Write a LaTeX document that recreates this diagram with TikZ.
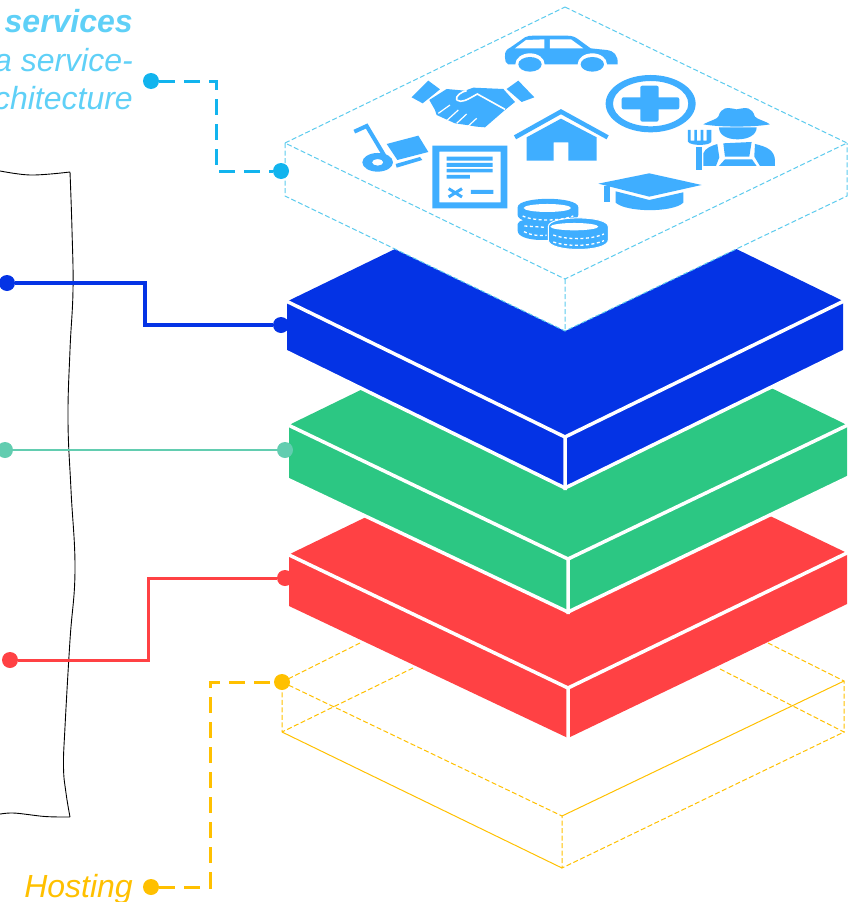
\documentclass[tikz,border=0pt]{standalone}
\usepackage{fontspec}
\setmainfont{Liberation Sans}
\definecolor{cyandot}{HTML}{12B4EE}
\definecolor{cyantext}{HTML}{5FD0F7}
\definecolor{cyanline}{HTML}{5CCBEE}
\definecolor{iconblue}{HTML}{3FAEFF}
\definecolor{bluelayer}{HTML}{0433E5}
\definecolor{greenlayer}{HTML}{2CC783}
\definecolor{greenline}{HTML}{62CDB0}
\definecolor{redlayer}{HTML}{FF4144}
\definecolor{amber}{HTML}{FFC000}
\tikzset{
  dotnode/.style={circle,inner sep=0pt,minimum size=16pt,draw=none},
  captext/.style={anchor=base east,inner sep=0pt,font=\fontsize{32}{32}\selectfont\itshape},
  edgewhite/.style={draw=white,line width=3.5pt,line join=miter},
  wire/.style={line width=3pt},
  longdash/.style={dash pattern=on 16pt off 9pt},
  thinline/.style={line width=1pt},
  thindash/.style={line width=1pt,dash pattern=on 5pt off 2.5pt},
  icon/.style={fill=iconblue,draw=none},
  iconcut/.style={fill=white,draw=none},
  coindash/.style={white,line width=1.3pt,dash pattern=on 3pt off 2.5pt},
}
\begin{document}
\begin{tikzpicture}[x=1pt,y=-1pt,line join=miter]
\useasboundingbox (0,0) rectangle (859,902);
%% paper outline
\draw [black,line width=0.9pt] plot [smooth,tension=0.6] coordinates {(-5,170) (30,175) (70,172)}
  plot [smooth,tension=0.7] coordinates {(70,172) (72,230) (73,290) (70,350) (68,420) (71,490) (75,570) (70,640) (65,727) (63.5,767) (66,793) (70,817)}
  plot [smooth,tension=0.6] coordinates {(70,817) (45,816.5) (13,813) (-5,815)};
%% hosting layer, wire frame
\draw [amber,thindash] (360,643) -- (282,682) -- (282,732);
\draw [amber,thindash] (413,668) -- (282,732);
\draw [amber,thindash] (768,643) -- (844,681) -- (844,732) -- (718,668);
\draw [amber,thindash] (282,682) -- (562,816) -- (562,868) -- (844,732);
\draw [amber,thinline] (282,732) -- (562,868);
\draw [amber,thinline] (562,816) -- (844,681);
%% red layer
\fill [redlayer] (289,606) -- (289,555) -- (292,553) -- (568,419) -- (844,551.5) -- (847,553) -- (847,604) -- (568,738) -- cycle;
\draw [edgewhite] (285,553) -- (568,688) -- (851,551) (568,688) -- (568,739);
%% green layer
\fill [greenlayer] (289,480) -- (289,425.5) -- (293,423) -- (568,289) -- (843,423) -- (847,425.5) -- (847,478) -- (568,612) -- cycle;
\draw [edgewhite] (285,478) -- (568,612) -- (851,476);
\draw [edgewhite] (285,423.5) -- (568,559) -- (851,423.5) (568,559) -- (568,614);
%% blue layer
\node (blue_b) at (281,325) [dotnode,fill=bluelayer] {};
\fill [bluelayer] (287,352) -- (287,301.5) -- (290,300) -- (566,166) -- (841,300) -- (843,301.5) -- (843,352) -- (565,488) -- cycle;
\draw [edgewhite] (284,350.5) -- (565,488) -- (846,350.5);
\draw [edgewhite] (283,299.5) -- (565,437) -- (847,299.5) (565,437) -- (565,490);
%% services layer
\fill [white] (565,7) -- (847,143) -- (847,196) -- (565,331) -- (285,196) -- (285,143) -- cycle;
\draw [cyanline,thindash] (565,7) -- (847,143) -- (565,279) -- (285,143) -- cycle;
\draw [cyanline,thindash] (285,143) -- (285,196) -- (565,331) -- (847,196) -- (847,143) (565,279) -- (565,331);
%% icons
\begin{scope}[shift={(340,20)},x=0.3333pt,y=-0.3333pt]
% car
\fill [icon] (495,112) .. controls (493,95) and (500,88) .. (512,82) -- (555,52) .. controls (562,48) and (570,47) .. (580,47) -- (680,47) .. controls (695,47) and (705,50) .. (715,58) -- (752,85) -- (800,90) .. controls (822,93) and (835,105) .. (833,133) -- (505,133) .. controls (497,130) and (495,122) .. (495,112) -- cycle;
\fill [iconcut] (525,85) -- (558,60) -- (613,58) -- (613,85) -- cycle (630,58) -- (693,58) -- (730,85) -- (630,85) -- cycle;
\fill [iconcut] (570,133) circle [x radius=44,y radius=33] (757,133) circle [x radius=44,y radius=33];
\fill [iconcut] (495,134) rectangle (835,160);
\fill [icon] (570,133) circle [x radius=35,y radius=22] (757,133) circle [x radius=35,y radius=22];
% handshake
\fill [icon] (215,232) -- (265,182) -- (300,208) -- (248,250) -- cycle (500,207) -- (535,182) -- (583,232) -- (545,246) -- cycle;
\fill [icon] (268,240) -- (320,207) -- (375,212) -- (400,203) -- (490,207) -- (525,246) -- (495,270) -- (435,322) -- (410,320) -- (380,315) -- (345,310) -- (290,285) -- (285,270) -- cycle;
\draw [white,line width=1.6pt] (350,240) .. controls (365,250) and (380,240) .. (412,222) -- (495,268);
\draw [white,line width=1.6pt] (350,240) .. controls (345,228) and (365,215) .. (380,212);
\draw [white,line width=1.2pt] (330,255) -- (295,280) (355,270) -- (322,300) (380,282) -- (350,310) (410,295) -- (385,318);
% plus in a ring
\fill [icon,even odd rule] (932,251) circle [x radius=135,y radius=86] (932,251) circle [x radius=113,y radius=68];
\fill [icon,rounded corners=2pt] (901,197) rectangle (956,305);
\fill [icon,rounded corners=2pt] (845,232) rectangle (1018,268);
% farmer
\fill [icon] (1090,313) .. controls (1115,300) and (1130,298) .. (1135,290) .. controls (1145,260) and (1160,262) .. (1190,268) .. controls (1220,262) and (1235,260) .. (1245,290) .. controls (1255,300) and (1270,300) .. (1290,313) .. controls (1240,322) and (1140,322) .. (1090,313) -- cycle;
\fill [icon] (1137,322) -- (1250,322) .. controls (1250,345) and (1225,358) .. (1193,358) .. controls (1160,358) and (1137,345) .. (1137,322) -- cycle;
\fill [icon] (1150,370) -- (1235,366) -- (1228,410) -- (1155,410) -- cycle;
\fill [icon] (1132,372) -- (1138,412) -- (1128,438) -- (1090,438) -- (1090,400) .. controls (1095,385) and (1115,377) .. (1132,372) -- cycle;
\fill [icon] (1245,372) .. controls (1280,380) and (1303,390) .. (1305,420) -- (1305,438) -- (1260,438) -- (1243,410) -- cycle;
\fill [icon] (1155,418) -- (1236,418) -- (1250,438) -- (1137,438) -- cycle;
\fill [icon] (1069,380) -- (1087,380) -- (1087,450) -- (1069,450) -- cycle;
\fill [icon] (1044,330) -- (1052,330) -- (1052,362) -- (1063,362) -- (1063,330) -- (1071,330) -- (1071,362) -- (1082,362) -- (1082,330) -- (1090,330) -- (1090,362) -- (1100,362) -- (1100,330) -- (1114,330) -- (1114,365) .. controls (1110,378) and (1050,378) .. (1044,365) -- cycle;
% lawn mower
\draw [iconblue,line width=4pt] (43,335) -- (80,318) -- (135,410);
\fill [icon,even odd rule] (113,427) circle [x radius=46,y radius=28] (113,427) circle [x radius=17,y radius=10];
\fill [icon] (140,372) -- (235,347) -- (265,396) -- (172,420) -- cycle;
\fill [icon] (167,432) -- (240,411) -- (247,420) -- (170,443) -- cycle;
% document
\fill [icon,even odd rule] (277,377) rectangle (502,565) (298,395) rectangle (482,547);
\fill [icon] (320,410) rectangle (458,422) (320,429) rectangle (458,441) (320,447) rectangle (458,457) (320,465) rectangle (390,476) (393,510) rectangle (460,522);
\draw [iconblue,line width=3pt] (326,506) -- (366,531) (366,506) -- (326,531);
% house
\draw [iconblue,line width=4.5pt] (525,352) -- (663,275) -- (803,352);
\fill [icon] (560,352) -- (663,296) -- (770,352) -- (770,422) -- (685,422) -- (685,367) -- (641,367) -- (641,422) -- (560,422) -- cycle;
% mortar board
\fill [icon] (775,491) -- (928,460) -- (1085,495) -- (928,530) -- cycle;
\fill [icon] (793,497) rectangle (809,546);
\fill [icon] (827,514) -- (928,540) -- (1030,517) -- (1030,548) .. controls (1000,578) and (860,578) .. (827,548) -- cycle;
% coins
\fill [icon] (533,562) .. controls (533,528) and (715,528) .. (715,562) -- (715,585) .. controls (715,620) and (533,620) .. (533,585) -- cycle;
\fill [icon] (533,612) .. controls (533,590) and (660,590) .. (680,612) -- (680,640) .. controls (660,668) and (533,668) .. (533,632) -- cycle;
\fill [icon,draw=white,line width=1pt] (625,620) .. controls (625,585) and (805,585) .. (805,620) -- (805,660) .. controls (805,698) and (625,698) .. (625,660) -- cycle;
\fill [iconcut] (622,564) ellipse [x radius=71,y radius=12];
\fill [iconcut] (703,620) ellipse [x radius=72,y radius=11];
\draw [coindash] (548,588) .. controls (580,604) and (660,604) .. (700,588);
\draw [coindash] (553,618) -- (615,622) (552,635) .. controls (570,645) and (590,648) .. (620,646);
\draw [coindash] (640,645) .. controls (680,660) and (750,660) .. (792,642);
\draw [coindash] (640,666) .. controls (680,680) and (750,680) .. (792,662);
\end{scope}
%% captions
\node (services_title) at (133,32) [captext,text=cyantext,font=\fontsize{32}{32}\selectfont\bfseries\itshape] {services};
\node (services_line1) at (133,71) [captext,text=cyantext] {a service-};
\node (services_line2) at (133,109) [captext,text=cyantext] {chitecture};
\node (hosting_text) at (133,897) [captext,text=amber] {Hosting};
%% dots
\node (services_a) at (151,81) [dotnode,fill=cyandot] {};
\node (services_b) at (281,171) [dotnode,fill=cyandot] {};
\coordinate (services_bend) at (216,120);
\node (blue_a) at (7,283) [dotnode,fill=bluelayer] {};
\coordinate (blue_bend) at (145,300);
\node (green_a) at (5,450) [dotnode,fill=greenline] {};
\node (green_b) at (285,450) [dotnode,fill=greenline] {};
\node (red_a) at (10,660) [dotnode,fill=redlayer] {};
\node (red_b) at (285,578) [dotnode,fill=redlayer] {};
\coordinate (red_bend) at (148,620);
\node (hosting_a) at (151,887) [dotnode,fill=amber] {};
\node (hosting_b) at (282,682) [dotnode,fill=amber] {};
\coordinate (hosting_bend) at (210,780);
%% wires
\draw [cyandot,wire,longdash] (services_a) -| (services_bend) |- (services_b);
\draw [bluelayer,wire,line width=3.5pt] (blue_a) -| (blue_bend) |- (blue_b);
\draw [greenline,wire,line width=2.5pt] (green_a) -- (green_b);
\draw [redlayer,wire] (red_a) -| (red_bend) |- (red_b);
\draw [amber,wire,longdash] (hosting_a) -| (hosting_bend) |- (hosting_b);
\end{tikzpicture}
\end{document}
